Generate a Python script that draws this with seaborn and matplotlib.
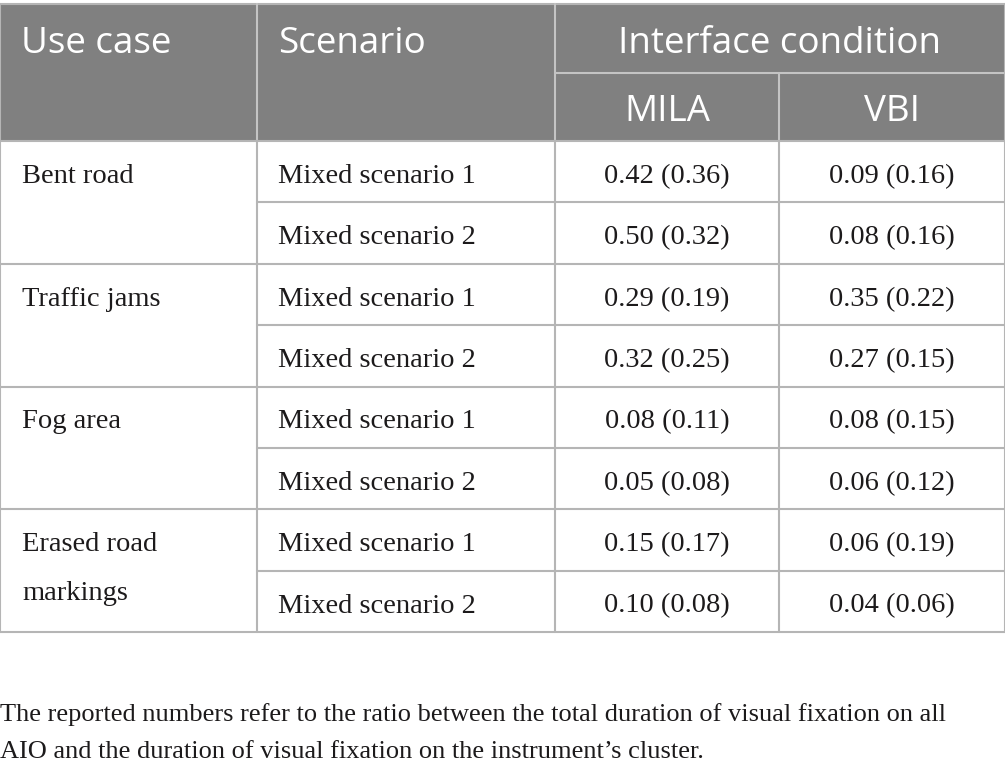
import matplotlib.pyplot as plt
import seaborn as sns

use_cases = ["Bent road", "Traffic jams", "Fog area", "Erased road\nmarkings"]
scenarios = ["Mixed scenario 1", "Mixed scenario 2"]
mila_mean = [0.42, 0.50, 0.29, 0.32, 0.08, 0.05, 0.15, 0.10]
mila_sd = [0.36, 0.32, 0.19, 0.25, 0.11, 0.08, 0.17, 0.08]
vbi_mean = [0.09, 0.08, 0.35, 0.27, 0.08, 0.06, 0.06, 0.04]
vbi_sd = [0.16, 0.16, 0.22, 0.15, 0.15, 0.12, 0.19, 0.06]
col_headers = ["Use case", "Scenario"]
group_header = "Interface condition"
sub_headers = ["MILA", "VBI"]
footnote = ("The reported numbers refer to the ratio between the total duration of visual fixation on all\n"
            "AIO and the duration of visual fixation on the instrument\u2019s cluster.")

sns.set_style("white")
plt.rcParams['font.family'] = ['Liberation Serif', 'DejaVu Serif']
plt.rcParams['text.color'] = "#1c1a1b"

W, H = 1005, 772
fig = plt.figure(figsize=(W / 100, H / 100), dpi=100)
ax = fig.add_axes([0, 0, 1, 1])
ax.set_xlim(0, W)
ax.set_ylim(H, 0)
ax.axis('off')

# layout in pixels
col_x = [0, 257, 555, 779, 1005]
head_top, head_mid, head_bot = 4, 73, 141
row_h = (632 - head_bot) / 8
n_rows = len(use_cases) * len(scenarios)
row_y = [head_bot + i * row_h for i in range(n_rows + 1)]

grid_col = "#b5b5b5"
head_bg = "#808080"
head_line = "#c4c4c4"
sans = "Open Sans"
hsize = 26.5
bsize = 20.5

# header background
ax.add_patch(plt.Rectangle((0, head_top), W, head_bot - head_top, color=head_bg, lw=0))
ax.plot([0, W], [head_top, head_top], color=grid_col, lw=1.5)
ax.plot([col_x[2], W], [head_mid, head_mid], color=head_line, lw=1.5)
for x in col_x[1:3]:
    ax.plot([x, x], [head_top, head_bot], color=head_line, lw=1.5)
ax.plot([col_x[3], col_x[3]], [head_mid, head_bot], color=head_line, lw=1.5)

for i, lab in enumerate(col_headers):
    ax.text(col_x[i] + 21, 53, lab, color="white",
            fontsize=hsize, family=sans, va='baseline', ha='left')
ax.text((col_x[2] + col_x[4]) / 2, 53, group_header,
        color="white", fontsize=hsize, family=sans, va='baseline', ha='center')
for j, lab in enumerate(sub_headers):
    ax.text((col_x[2 + j] + col_x[3 + j]) / 2, 121, lab,
            color="white", fontsize=hsize, family=sans, va='baseline', ha='center')

# body grid
ax.plot([0, 0], [head_top, row_y[-1]], color=grid_col, lw=1.5)
ax.plot([W, W], [head_top, row_y[-1]], color=grid_col, lw=1.5)
for x in col_x[1:4]:
    ax.plot([x, x], [head_bot, row_y[-1]], color=grid_col, lw=1.5)
for i, y in enumerate(row_y):
    x0 = 0 if i % len(scenarios) == 0 else col_x[1]
    ax.plot([x0, W], [y, y], color=grid_col, lw=1.5)

# body text, placed on the baseline
base = 42
for g, case in enumerate(use_cases):
    y0 = row_y[g * len(scenarios)] + base
    for k, line in enumerate(case.split("\n")):
        ax.text(22, y0 + k * 49, line, fontsize=bsize, va='baseline', ha='left')
    for s, scen in enumerate(scenarios):
        r = g * len(scenarios) + s
        yb = row_y[r] + base
        ax.text(col_x[1] + 21, yb, scen, fontsize=bsize, va='baseline', ha='left')
        ax.text((col_x[2] + col_x[3]) / 2, yb, f"{mila_mean[r]:.2f} ({mila_sd[r]:.2f})",
                fontsize=bsize, va='baseline', ha='center')
        ax.text((col_x[3] + col_x[4]) / 2, yb, f"{vbi_mean[r]:.2f} ({vbi_sd[r]:.2f})",
                fontsize=bsize, va='baseline', ha='center')

# footnote
for k, line in enumerate(footnote.split("\n")):
    ax.text(0, 721 + k * 37, line, fontsize=19, va='baseline', ha='left')

fig.savefig("out.png", dpi=100, facecolor="white")
